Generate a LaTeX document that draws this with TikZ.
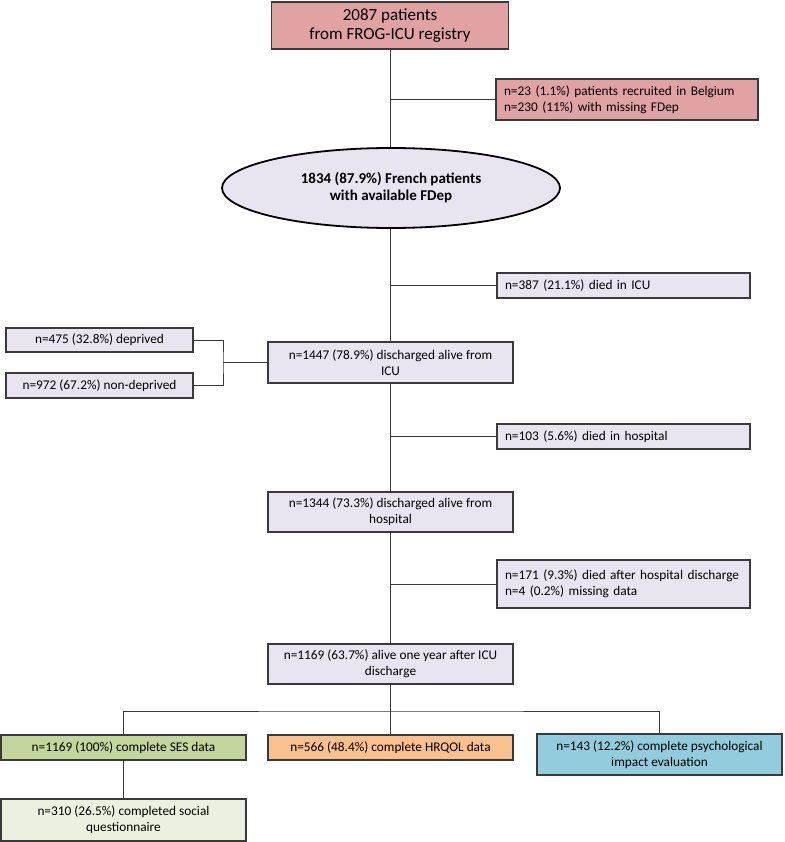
\documentclass[tikz,border=0pt]{standalone}
\usepackage{fontspec}
\setmainfont{Carlito}
\usetikzlibrary{shapes.geometric}
\definecolor{regpink}{HTML}{E0A2A2}
\definecolor{lav}{HTML}{E8E4F0}
\definecolor{sesgreen}{HTML}{C3D69B}
\definecolor{hrqorange}{HTML}{FAC090}
\definecolor{psyblue}{HTML}{93CDDD}
\definecolor{socgreen}{HTML}{EBF1DE}
\definecolor{edge}{HTML}{3A3A3A}
\tikzset{
    box/.style={draw=edge, line width=1.1pt, fill=lav, align=center, inner sep=0pt,
        font=\fontsize{13.3}{16}\selectfont},
    sidebox/.style={box, align=left, text width=#1, inner xsep=8pt},
    link/.style={draw=edge, line width=1pt},
}
\newcommand{\flowBox}[6][box]{
    \node[#1, minimum width=#5, minimum height=#6] (#2) at (#3) {#4};
}
\newcommand{\sideBranch}[2]{
    \draw[link] (#1 |- #2.west) -- (#2.west);
}

\begin{document}
\begin{tikzpicture}[x=1pt, y=-1pt]
	\useasboundingbox (0,0) rectangle (784,842);

	% main column
	\flowBox[box, fill=regpink, font=\fontsize{17}{19.5}\selectfont]{reg}{390,25.5}{2087 patients\\from FROG-ICU registry}{237pt}{47pt};
	\node[ellipse, draw=black, line width=1.8pt, fill=lav, minimum width=338pt, minimum height=80pt,
	    align=center, font=\fontsize{15}{17}\selectfont\bfseries] (french) at (391,188)
	    {1834 (87.9\%) French patients\\with available FDep};
	\flowBox{dis}{390.5,362.5}{n=1447 (78.9\%) discharged alive from\\ICU}{245pt}{41pt};
	\flowBox{dish}{390.5,512}{n=1344 (73.3\%) discharged alive from\\hospital}{245pt}{40pt};
	\flowBox{alive}{390.5,664}{n=1169 (63.7\%) alive one year after ICU\\discharge}{245pt}{40pt};

	% exclusions
	\flowBox[sidebox=246pt, fill=regpink]{excl}{627,99.5}{n=23 (1.1\%) patients recruited in Belgium\\n=230 (11\%) with missing FDep}{262pt}{41pt};
	\flowBox[sidebox=237pt]{icu}{623.5,285.5}{n=387 (21.1\%) died in ICU}{253pt}{25pt};
	\flowBox[sidebox=237pt]{hosp}{623.5,436.5}{n=103 (5.6\%) died in hospital}{253pt}{25pt};
	\flowBox[sidebox=237pt]{after}{623.5,584}{n=171 (9.3\%) died after hospital discharge\\n=4 (0.2\%) missing data}{253pt}{48pt};

	% deprivation
	\flowBox{depr}{99.5,340}{n=475 (32.8\%) deprived}{187pt}{24pt};
	\flowBox{nondepr}{99.5,385.5}{n=972 (67.2\%) non-deprived}{187pt}{25pt};

	% follow-up
	\flowBox[box, fill=sesgreen]{ses}{123.5,747.5}{n=1169 (100\%) complete SES data}{245pt}{25pt};
	\flowBox[box, fill=hrqorange]{hrq}{390.5,747.5}{n=566 (48.4\%) complete HRQOL data}{245pt}{25pt};
	\flowBox[box, fill=psyblue]{psy}{659.5,754.5}{n=143 (12.2\%) complete psychological\\impact evaluation}{245pt}{41pt};
	\flowBox[box, fill=socgreen]{soc}{123.5,820}{n=310 (26.5\%) completed social\\questionnaire}{245pt}{42pt};

	\coordinate (spine) at (390.5,0);
	\coordinate (split) at (223,362.5);
	\coordinate (fan) at (390.5,711);

	\draw[link] (reg.south -| spine) -- (french.north -| spine);
	\draw[link] (french.south -| spine) -- (dis.north);
	\draw[link] (dis.south) -- (dish.north);
	\draw[link] (dish.south) -- (alive.north);
	\draw[link] (alive.south) -- (hrq.north);

	\sideBranch{spine}{excl};
	\sideBranch{spine}{icu};
	\sideBranch{spine}{hosp};
	\sideBranch{spine}{after};

	\draw[link] (depr.east) -| (split) |- (nondepr.east);
	\draw[link] (split) -- (dis.west);

	\draw[link] (ses.north) |- (fan) -| (psy.north);
	\draw[link] (ses.south) -- (soc.north);
\end{tikzpicture}
\end{document}
